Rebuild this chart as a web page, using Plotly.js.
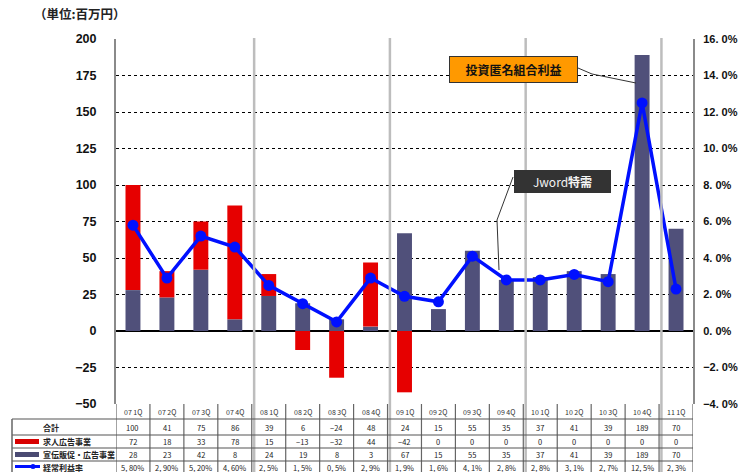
<!DOCTYPE html>
<html>
<head>
<meta charset="utf-8">
<script src="https://cdn.plot.ly/plotly-3.0.1.min.js"></script>
<style>html,body{margin:0;padding:0;background:#fff;}#chart{width:740px;height:472px;}</style>
</head>
<body>
<div id="chart"></div>
<script>
// ---- data ----
const categories = ['07 1Q','07 2Q','07 3Q','07 4Q','08 1Q','08 2Q','08 3Q','08 4Q','09 1Q','09 2Q','09 3Q','09 4Q','10 1Q','10 2Q','10 3Q','10 4Q','11 1Q'];
const totalValues = [100, 41, 75, 86, 39, 6, -24, 48, 24, 15, 55, 35, 37, 41, 39, 189, 70];
const recruitAd = [72, 18, 33, 78, 15, -13, -32, 44, -42, 0, 0, 0, 0, 0, 0, 0, 0];
const promoAd = [28, 23, 42, 8, 24, 19, 8, 3, 67, 15, 55, 35, 37, 41, 39, 189, 70];
const profitRate = [5.8, 2.9, 5.2, 4.6, 2.5, 1.5, 0.5, 2.9, 1.9, 1.6, 4.1, 2.8, 2.8, 3.1, 2.7, 12.5, 2.3];
const rateLabels = ['5, 80%','2, 90%','5, 20%','4, 60%','2, 5%','1, 5%','0, 5%','2, 9%','1, 9%','1, 6%','4, 1%','2, 8%','2, 8%','3, 1%','2, 7%','12, 5%','2, 3%'];
const leftTicks = [-50, -25, 0, 25, 50, 75, 100, 125, 150, 175, 200];
const rightTicks = [-4, -2, 0, 2, 4, 6, 8, 10, 12, 14, 16];
const rowLabels = ['合計', '求人広告事業', '宣伝販促・広告事業', '経常利益率'];
const unitLabel = '（単位:百万円）';
const calloutInvest = '投資匿名組合利益';
const calloutJword = 'Jword特需';

// ---- geometry helpers (pixel -> paper) ----
const W = 740, H = 472;
const L = 116, R = 693, T = 39, B = 404;
const px = x => (x - L) / (R - L);
const py = y => (B - y) / (B - T);
const fmtNum = v => (v < 0 ? '\u2212' + Math.abs(v) : String(v));
const rightTickText = rightTicks.map(v => (v < 0 ? '\u2212' : '') + Math.abs(v).toFixed(1).replace('.', '. ') + '%');

const JP = '"Noto Sans CJK JP", "Liberation Sans", sans-serif';
const AX = '"Liberation Sans", "Noto Sans CJK JP", sans-serif';

const traces = [
  {type: 'bar', x: categories, y: promoAd, name: '宣伝販促・広告事業', yaxis: 'y',
   marker: {color: '#50507a', line: {width: 0}}},
  {type: 'bar', x: categories, y: recruitAd, name: '求人広告事業', yaxis: 'y',
   marker: {color: '#e60000', line: {width: 0}}},
  {type: 'scatter', mode: 'lines+markers', x: categories, y: profitRate, name: '経常利益率', yaxis: 'y2',
   line: {color: '#0010ff', width: 3.5}, marker: {color: '#0010ff', size: 11}}
];

const shapes = [];
const annotations = [];
const n = categories.length;

// year separator lines (gray)
[3.57, 7.57, 11.57, 15.57].forEach(xv => {
  shapes.push({type: 'line', xref: 'x', yref: 'paper', x0: xv, x1: xv, y0: py(T - 1), y1: py(H + 2),
    line: {color: '#bdbdbd', width: 2.5}, layer: 'above'});
});

// table column separators
for (let i = 0; i <= n; i++) {
  const xv = i - 0.5;
  shapes.push({type: 'line', xref: 'x', yref: 'paper', x0: xv, x1: xv, y0: py(B), y1: py(H + 2),
    line: {color: '#666', width: 1.2}});
}
// table horizontal lines
[419, 435, 448, 461].forEach(yy => {
  shapes.push({type: 'line', xref: 'paper', yref: 'paper', x0: px(12), x1: px(R), y0: py(yy), y1: py(yy),
    line: {color: '#555', width: 1.2}});
});
// left border of label column
shapes.push({type: 'line', xref: 'paper', yref: 'paper', x0: px(12), x1: px(12), y0: py(419), y1: py(H + 2),
  line: {color: '#666', width: 1.5}});

// legend swatches
shapes.push({type: 'rect', xref: 'paper', yref: 'paper', x0: px(15), x1: px(39), y0: py(444), y1: py(439),
  fillcolor: '#d80000', line: {width: 0}});
shapes.push({type: 'rect', xref: 'paper', yref: 'paper', x0: px(15), x1: px(39), y0: py(457), y1: py(452),
  fillcolor: '#4a4a72', line: {width: 0}});
shapes.push({type: 'line', xref: 'paper', yref: 'paper', x0: px(15), x1: px(40), y0: py(466.5), y1: py(466.5),
  line: {color: '#0010ff', width: 3}});
shapes.push({type: 'circle', xref: 'paper', yref: 'paper', x0: px(30.5), x1: px(35.5), y0: py(469), y1: py(464),
  fillcolor: '#0010ff', line: {width: 0}});

// callout lines
shapes.push({type: 'path', xref: 'paper', yref: 'paper',
  path: `M ${px(578)},${py(68)} L ${px(592)},${py(74)} L ${px(636)},${py(83)}`,
  line: {color: '#333', width: 1}});
shapes.push({type: 'path', xref: 'paper', yref: 'paper',
  path: `M ${px(513)},${py(177)} L ${px(497)},${py(220)} L ${px(499)},${py(270)}`,
  line: {color: '#333', width: 1}});

// table content
const rowY = [427.5, 441.5, 454.5, 467];
for (let i = 0; i < n; i++) {
  annotations.push({xref: 'x', yref: 'paper', x: categories[i], y: py(411.5), text: categories[i], showarrow: false,
    font: {family: JP, size: 7, color: '#333'}, yanchor: 'middle'});
  const vals = [fmtNum(totalValues[i]), fmtNum(recruitAd[i]), fmtNum(promoAd[i]), rateLabels[i]];
  vals.forEach((t, r) => {
    annotations.push({xref: 'x', yref: 'paper', x: categories[i], y: py(rowY[r]), text: t, showarrow: false,
      font: {family: JP, size: 7.5, color: '#222'}, yanchor: 'middle'});
  });
}
rowLabels.forEach((t, r) => {
  annotations.push({xref: 'paper', yref: 'paper', x: px(41), y: py(rowY[r]), text: '<b>' + t + '</b>', showarrow: false,
    xanchor: 'left', yanchor: 'middle', font: {family: JP, size: 8, color: '#222'}});
});

// unit label
annotations.push({xref: 'paper', yref: 'paper', x: px(32), y: py(13), text: '<b>' + unitLabel + '</b>', showarrow: false,
  xanchor: 'left', yanchor: 'middle', font: {family: JP, size: 12.5, color: '#222'}});

// callout boxes
annotations.push({xref: 'paper', yref: 'paper', x: px(513.5), y: py(69.5), text: '<b>' + calloutInvest + '</b>', showarrow: false,
  xanchor: 'center', yanchor: 'middle', bgcolor: '#ff9900', bordercolor: '#333', borderwidth: 1, borderpad: 1,
  width: 125, height: 23, font: {family: JP, size: 12, color: '#111'}});
annotations.push({xref: 'paper', yref: 'paper', x: px(562.5), y: py(181.5), text: 'Jword<b>特需</b>', showarrow: false,
  xanchor: 'center', yanchor: 'middle', bgcolor: '#333333', borderwidth: 0, borderpad: 0,
  width: 97, height: 23, font: {family: JP, size: 12, color: '#f4f4f4'}});

const layout = {
  width: W, height: H,
  margin: {l: L, r: W - R, t: T, b: H - B, pad: 0},
  paper_bgcolor: '#fff', plot_bgcolor: '#fff',
  showlegend: false,
  barmode: 'relative',
  bargap: 0.56,
  xaxis: {type: 'category', range: [-0.5, n - 0.5], showticklabels: false, showgrid: false, zeroline: false,
    showline: false, ticks: ''},
  yaxis: {range: [-50, 200], tickvals: leftTicks, ticktext: leftTicks.map(fmtNum), showgrid: true, gridcolor: '#000',
    griddash: 'dot', gridwidth: 1, zeroline: true, zerolinecolor: '#000', zerolinewidth: 1.5,
    showline: true, linecolor: '#8a8a8a', linewidth: 2, ticks: '', ticklabelstandoff: 15,
    tickfont: {family: AX, size: 12.5, color: '#111', weight: 'bold'}},
  yaxis2: {overlaying: 'y', side: 'right', range: [-4, 16], tickvals: rightTicks, ticktext: rightTickText,
    showgrid: false, zeroline: false, showline: true, linecolor: '#8a8a8a', linewidth: 2, ticks: '',
    ticklabelstandoff: 6, tickfont: {family: AX, size: 11, color: '#111', weight: 'bold'}},
  shapes: shapes,
  annotations: annotations
};

Plotly.newPlot('chart', traces, layout, {displayModeBar: false, staticPlot: true});
</script>
</body>
</html>
